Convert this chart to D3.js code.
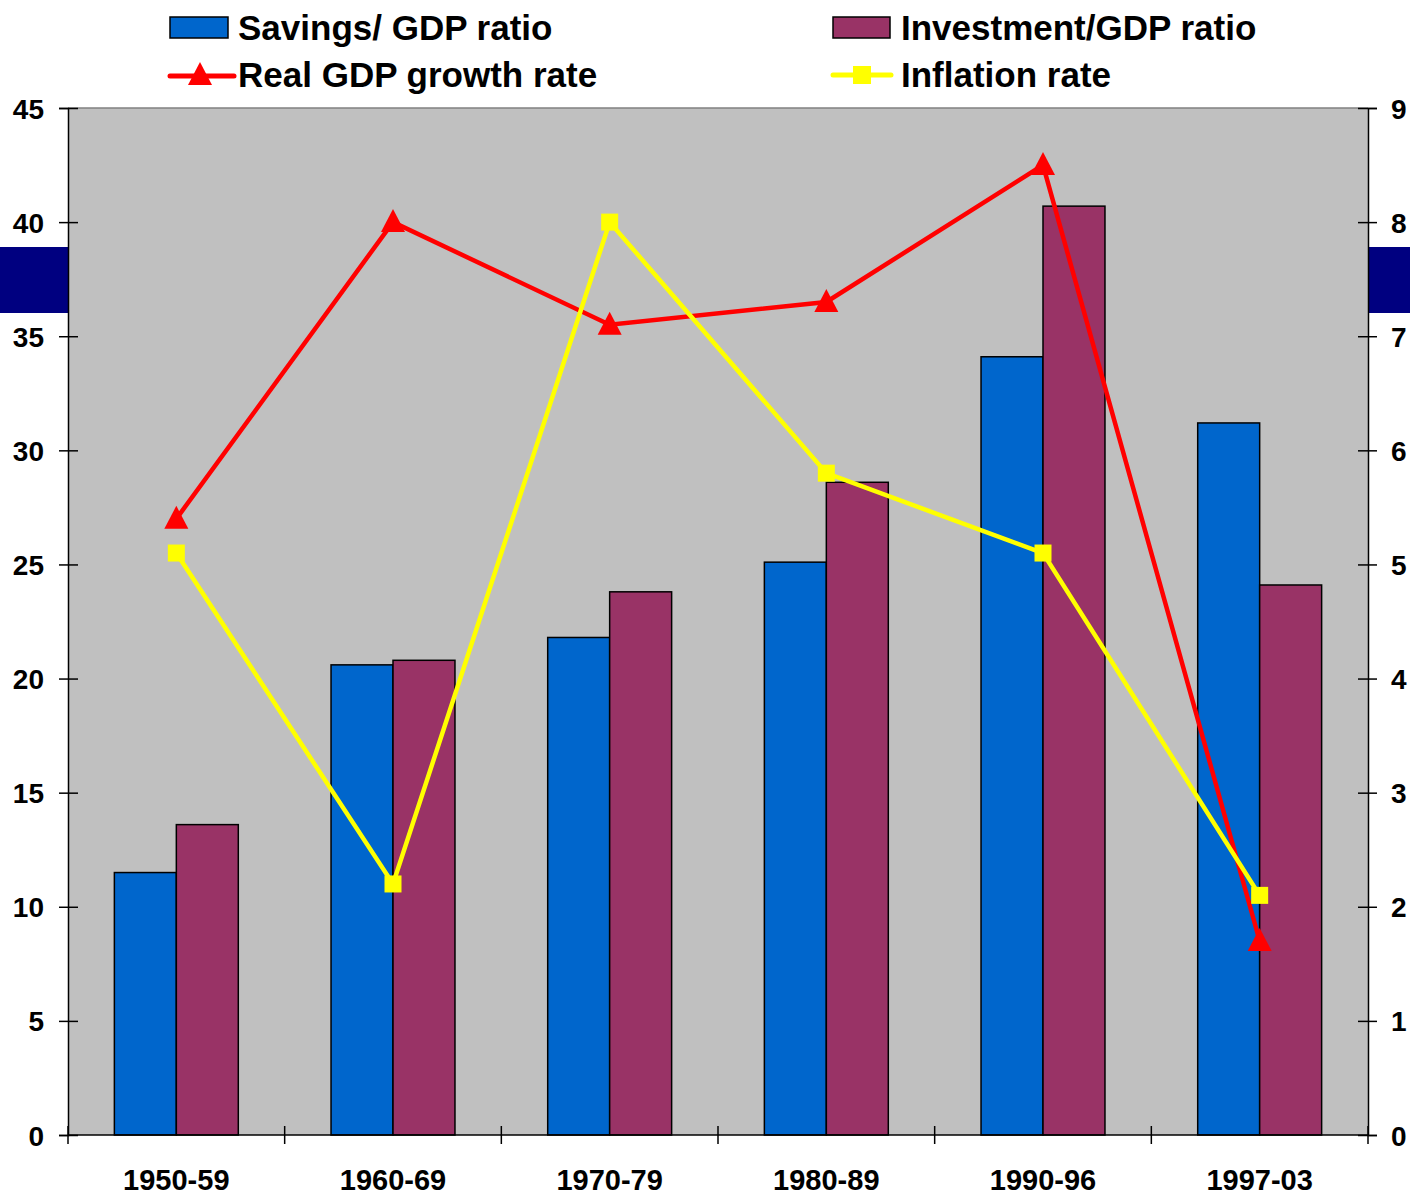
<!DOCTYPE html>
<html>
<head>
<meta charset="utf-8">
<script src="https://cdn.jsdelivr.net/npm/d3@7"></script>
<style>
  body { margin: 0; background: #fff; }
  svg text { font-family: "Liberation Sans", Arial, sans-serif; font-weight: bold; fill: #000; }
</style>
</head>
<body>
<svg id="chart" width="1410" height="1195"></svg>
<script>
(function(){

  const periods = ["1950-59","1960-69","1970-79","1980-89","1990-96","1997-03"];
  const savings = [11.5, 20.6, 21.8, 25.1, 34.1, 31.2];
  const investment = [13.6, 20.8, 23.8, 28.6, 40.7, 24.1];
  const growth = [5.4, 8.0, 7.1, 7.3, 8.5, 1.7];
  const inflation = [5.1, 2.2, 8.0, 5.8, 5.1, 2.1];
  const leftTicks = [0,5,10,15,20,25,30,35,40,45];
  const rightTicks = [0,1,2,3,4,5,6,7,8,9];

  const svg = d3.select("#chart");
  const L = 68, R = 1368, T = 108, B = 1135;

  const x = d3.scaleBand().domain(periods).range([L, R])
    .paddingInner(0.428).paddingOuter(0.214);
  const xs = d3.scaleBand().domain(["s","i"]).range([0, x.bandwidth()]);
  const yL = d3.scaleLinear().domain([0,45]).range([B, T]);
  const yR = d3.scaleLinear().domain([0,9]).range([B, T]);

  // navy blocks beside the plot
  svg.append("rect").attr("x",0).attr("y",247).attr("width",L).attr("height",66).attr("fill","#000080");
  svg.append("rect").attr("x",R).attr("y",247).attr("width",1410-R).attr("height",66).attr("fill","#000080");

  // plot area
  svg.append("rect").attr("x",L).attr("y",T).attr("width",R-L).attr("height",B-T).attr("fill","#c0c0c0");
  svg.append("line").attr("x1",L).attr("x2",R).attr("y1",T).attr("y2",T).attr("stroke","#808080").attr("stroke-width",1.5);

  // bars
  const rows = periods.map((p,i)=>({p, s:savings[i], v:investment[i]}));
  const g = svg.append("g");
  g.selectAll("rect.sav").data(rows).join("rect")
    .attr("x",d=>x(d.p)+xs("s")).attr("width",xs.bandwidth())
    .attr("y",d=>yL(d.s)).attr("height",d=>B-yL(d.s))
    .attr("fill","#0066cc").attr("stroke","#000").attr("stroke-width",1.5);
  g.selectAll("rect.inv").data(rows).join("rect")
    .attr("x",d=>x(d.p)+xs("i")).attr("width",xs.bandwidth())
    .attr("y",d=>yL(d.v)).attr("height",d=>B-yL(d.v))
    .attr("fill","#993366").attr("stroke","#000").attr("stroke-width",1.5);

  // axes
  const axL = svg.append("g").attr("transform",`translate(${L},0)`)
    .call(d3.axisLeft(yL).tickValues(leftTicks).tickSize(9).tickPadding(15));
  const axR = svg.append("g").attr("transform",`translate(${R},0)`)
    .call(d3.axisRight(yR).tickValues(rightTicks).tickSize(9).tickPadding(14));
  [axL, axR].forEach(a=>{
    a.select(".domain").attr("stroke","#000").attr("stroke-width",1.5);
    a.selectAll(".tick line").attr("stroke","#000").attr("stroke-width",1.5);
    a.selectAll(".tick text").style("font-size","28px").attr("dy","0.36em");
  });
  // ticks cross the axis lines
  axL.selectAll(".tick line").attr("x1",10);
  axR.selectAll(".tick line").attr("x1",-10);

  // x axis
  svg.append("line").attr("x1",L).attr("x2",R).attr("y1",B).attr("y2",B).attr("stroke","#000").attr("stroke-width",1.5);
  const bounds = d3.range(periods.length+1).map(i=>L + i*x.step());
  svg.selectAll("line.xt").data(bounds).join("line")
    .attr("x1",d=>d).attr("x2",d=>d).attr("y1",B-9).attr("y2",B+9)
    .attr("stroke","#000").attr("stroke-width",1.5);
  svg.selectAll("text.xl").data(periods).join("text")
    .attr("x",d=>x(d)+x.bandwidth()/2).attr("y",1190)
    .attr("text-anchor","middle").style("font-size","29px").text(d=>d);

  // lines
  const cx = p => x(p) + x.bandwidth()/2;
  const line = d3.line().x(d=>cx(d.p)).y(d=>yR(d.v));
  const gr = periods.map((p,i)=>({p, v:growth[i]}));
  const inf = periods.map((p,i)=>({p, v:inflation[i]}));
  const tri = "M0,-13L12,10L-12,10Z";

  svg.append("path").datum(gr).attr("d",line).attr("fill","none").attr("stroke","#ff0000").attr("stroke-width",4.5);
  svg.selectAll("path.tri").data(gr).join("path")
    .attr("d",tri).attr("transform",d=>`translate(${cx(d.p)},${yR(d.v)})`).attr("fill","#ff0000");

  svg.append("path").datum(inf).attr("d",line).attr("fill","none").attr("stroke","#ffff00").attr("stroke-width",4.5);
  svg.selectAll("rect.sq").data(inf).join("rect")
    .attr("x",d=>cx(d.p)-8.5).attr("y",d=>yR(d.v)-8.5).attr("width",17).attr("height",17).attr("fill","#ffff00");

  // legend
  const lg = svg.append("g");
  lg.append("rect").attr("x",170).attr("y",17).attr("width",58).attr("height",21).attr("fill","#0066cc").attr("stroke","#000").attr("stroke-width",1.5);
  lg.append("text").attr("x",238).attr("y",40).style("font-size","35px").text("Savings/ GDP ratio");
  lg.append("rect").attr("x",833).attr("y",17).attr("width",57).attr("height",21).attr("fill","#993366").attr("stroke","#000").attr("stroke-width",1.5);
  lg.append("text").attr("x",901).attr("y",40).style("font-size","35px").text("Investment/GDP ratio");

  lg.append("line").attr("x1",170).attr("x2",234).attr("y1",76).attr("y2",76).attr("stroke","#ff0000").attr("stroke-width",5).attr("stroke-linecap","round");
  lg.append("path").attr("d",tri).attr("transform","translate(200,75)").attr("fill","#ff0000");
  lg.append("text").attr("x",238).attr("y",87).style("font-size","35px").text("Real GDP growth rate");
  lg.append("line").attr("x1",833).attr("x2",891).attr("y1",75).attr("y2",75).attr("stroke","#ffff00").attr("stroke-width",5).attr("stroke-linecap","round");
  lg.append("rect").attr("x",853).attr("y",66).attr("width",18).attr("height",18).attr("fill","#ffff00");
  lg.append("text").attr("x",901).attr("y",87).style("font-size","35px").text("Inflation rate");

})();
</script>
</body>
</html>
